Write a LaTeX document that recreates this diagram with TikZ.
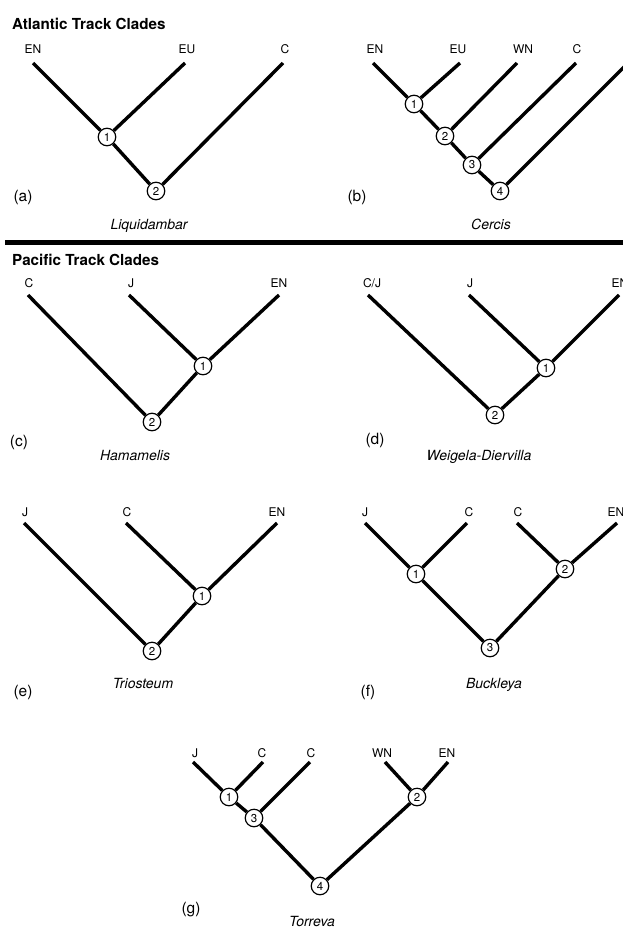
\documentclass[tikz,border=0pt]{standalone}
\usepackage{fontspec}
\setmainfont{TeX Gyre Heros}
\begin{document}
\begin{tikzpicture}[x=1pt,y=-1pt,
  br/.style={line width=3.4pt},
  nd/.style={circle, draw, line width=1.2pt, fill=white, minimum size=17.5pt, inner sep=0pt, font=\fontsize{11.5}{11.5}\selectfont},
  lab/.style={font=\fontsize{12}{12}\selectfont, inner sep=0pt},
  ttl/.style={font=\fontsize{15.2}{15.2}\selectfont\bfseries, anchor=base west, inner sep=0pt},
  capt/.style={font=\fontsize{14}{14}\selectfont\itshape, anchor=base, inner sep=0pt},
  pl/.style={font=\fontsize{15.5}{15.5}\selectfont, inner sep=0pt}]
\useasboundingbox (0,0) rectangle (623,932);
\fill[white] (0,0) rectangle (623,932);

% ---------- titles and rule
\node[ttl] (t1) at (12,29) {Atlantic Track Clades};
\node[ttl] (t2) at (12,265) {Pacific Track Clades};
\coordinate (r0) at (5,242);
\coordinate (r1) at (623,242);
\draw[line width=5pt] (r0) -- (r1);

% ---------- (a) Liquidambar
\node[lab] (aL1) at (33,49) {EN};
\node[lab] (aL2) at (187,49) {EU};
\node[lab] (aL3) at (285,49) {C};
\coordinate (a1) at (33,63);
\coordinate (a2) at (185,63);
\coordinate (a3) at (283,63);
\node[nd] (aN1) at (107,137) {1};
\node[nd] (aN2) at (156,191) {2};
\draw[br] (a1) -- (aN1);
\draw[br] (a2) -- (aN1);
\draw[br] (aN1) -- (aN2);
\draw[br] (a3) -- (aN2);
\node[pl] (aP) at (23,197) {(a)};
\node[capt] (aC) at (149,229) {Liquidambar};

% ---------- (b) Cercis
\node[lab] (bL1) at (375,49) {EN};
\node[lab] (bL2) at (458,49) {EU};
\node[lab] (bL3) at (523,49) {WN};
\node[lab] (bL4) at (577,49) {C};
\node[lab] (bL5) at (627,49) {C};
\coordinate (b1) at (373,63);
\coordinate (b2) at (460,63);
\coordinate (b3) at (517,63);
\coordinate (b4) at (576,63);
\coordinate (b5) at (628,63);
\node[nd] (bN1) at (414,104) {1};
\node[nd] (bN2) at (445,136) {2};
\node[nd] (bN3) at (472,165) {3};
\node[nd] (bN4) at (500,191) {4};
\draw[br] (b1) -- (bN1);
\draw[br] (b2) -- (bN1);
\draw[br] (bN1) -- (bN2);
\draw[br] (b3) -- (bN2);
\draw[br] (bN2) -- (bN3);
\draw[br] (b4) -- (bN3);
\draw[br] (bN3) -- (bN4);
\draw[br] (b5) -- (bN4);
\node[pl] (bP) at (357,197) {(b)};
\node[capt] (bC) at (491,229) {Cercis};

% ---------- (c) Hamamelis
\node[lab] (cL1) at (29,283) {C};
\node[lab] (cL2) at (131,283) {J};
\node[lab] (cL3) at (279,283) {EN};
\coordinate (c1) at (28,295);
\coordinate (c2) at (129,295);
\coordinate (c3) at (279,295);
\node[nd] (cN1) at (203,366) {1};
\node[nd] (cN2) at (152,422) {2};
\draw[br] (c2) -- (cN1);
\draw[br] (c3) -- (cN1);
\draw[br] (cN1) -- (cN2);
\draw[br] (c1) -- (cN2);
\node[pl] (cP) at (19,442) {(c)};
\node[capt] (cC) at (135,460) {Hamamelis};

% ---------- (d) Weigela-Diervilla
\node[lab] (dL1) at (372,283) {C/J};
\node[lab] (dL2) at (470,283) {J};
\node[lab] (dL3) at (620,283) {EN};
\coordinate (d1) at (368,295);
\coordinate (d2) at (469,295);
\coordinate (d3) at (619,295);
\node[nd] (dN1) at (546,368) {1};
\node[nd] (dN2) at (495,415) {2};
\draw[br] (d2) -- (dN1);
\draw[br] (d3) -- (dN1);
\draw[br] (dN1) -- (dN2);
\draw[br] (d1) -- (dN2);
\node[pl] (dP) at (375,440) {(d)};
\node[capt] (dC) at (479,460) {Weigela-Diervilla};

% ---------- (e) Triosteum
\node[lab] (eL1) at (25,512) {J};
\node[lab] (eL2) at (127,512) {C};
\node[lab] (eL3) at (277,512) {EN};
\coordinate (e1) at (24,523);
\coordinate (e2) at (126,523);
\coordinate (e3) at (277,523);
\node[nd] (eN1) at (202,596) {1};
\node[nd] (eN2) at (152,651) {2};
\draw[br] (e2) -- (eN1);
\draw[br] (e3) -- (eN1);
\draw[br] (eN1) -- (eN2);
\draw[br] (e1) -- (eN2);
\node[pl] (eP) at (23,692) {(e)};
\node[capt] (eC) at (143,688) {Triosteum};

% ---------- (f) Buckleya
\node[lab] (fL1) at (365,512) {J};
\node[lab] (fL2) at (469,512) {C};
\node[lab] (fL3) at (518,512) {C};
\node[lab] (fL4) at (616,512) {EN};
\coordinate (f1) at (365,523);
\coordinate (f2) at (467,523);
\coordinate (f3) at (517,523);
\coordinate (f4) at (617,523);
\node[nd] (fN1) at (416,574) {1};
\node[nd] (fN2) at (565,569) {2};
\node[nd] (fN3) at (490,648) {3};
\draw[br] (f1) -- (fN1);
\draw[br] (f2) -- (fN1);
\draw[br] (f3) -- (fN2);
\draw[br] (f4) -- (fN2);
\draw[br] (fN1) -- (fN3);
\draw[br] (fN2) -- (fN3);
\node[pl] (fP) at (368,692) {(f)};
\node[capt] (fC) at (494,688) {Buckleya};

% ---------- (g) Torreva
\node[lab] (gL1) at (195,753) {J};
\node[lab] (gL2) at (262,753) {C};
\node[lab] (gL3) at (311,753) {C};
\node[lab] (gL4) at (382,753) {WN};
\node[lab] (gL5) at (447,753) {EN};
\coordinate (g1) at (193,762);
\coordinate (g2) at (263,762);
\coordinate (g3) at (310,762);
\coordinate (g4) at (385,762);
\coordinate (g5) at (448,762);
\node[nd] (gN1) at (229,797) {1};
\node[nd] (gN2) at (417,797) {2};
\node[nd] (gN3) at (254,818) {3};
\node[nd] (gN4) at (320,886) {4};
\draw[br] (g1) -- (gN1);
\draw[br] (g2) -- (gN1);
\draw[br] (gN1) -- (gN3);
\draw[br] (g3) -- (gN3);
\draw[br] (g4) -- (gN2);
\draw[br] (g5) -- (gN2);
\draw[br] (gN3) -- (gN4);
\draw[br] (gN2) -- (gN4);
\node[pl] (gP) at (191,910) {(g)};
\node[capt] (gC) at (312,926) {Torreva};
\end{tikzpicture}
\end{document}
